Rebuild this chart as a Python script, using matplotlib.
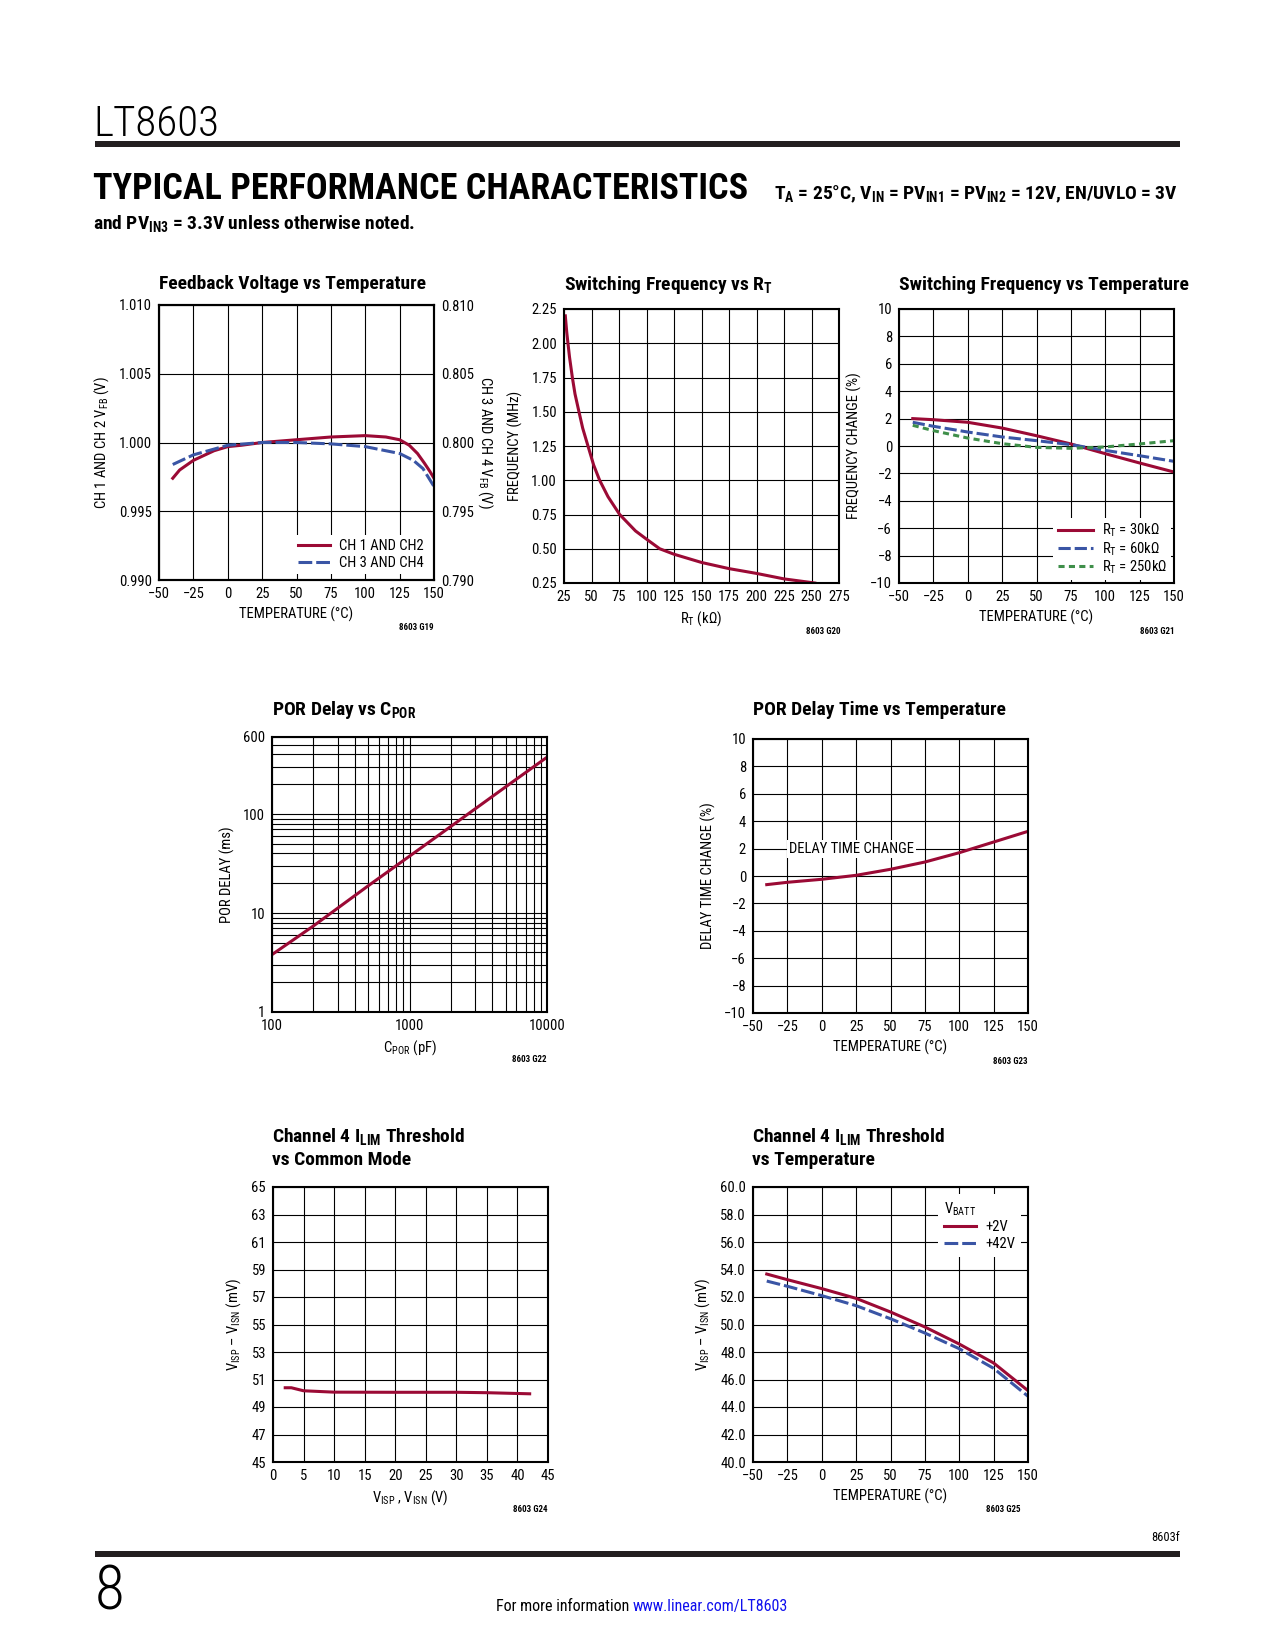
import matplotlib
matplotlib.use("Agg")
import matplotlib.pyplot as plt
from matplotlib import font_manager
from matplotlib.patches import Rectangle
from matplotlib.lines import Line2D
from matplotlib.ticker import (MultipleLocator, FormatStrFormatter, LogLocator,
                               NullFormatter, FixedLocator, FixedFormatter)

# ---- data ----
# Feedback voltage vs temperature
fb_temp_12 = [-40, -35, -25, -10, 0, 10, 25, 50, 75, 100, 115, 125, 132, 138, 143, 147, 150]
fb_vfb_12 = [0.9974, 0.9980, 0.9987, 0.9994, 0.9997, 0.9998, 1.0000, 1.0002, 1.0004, 1.0005,
             1.0004, 1.0002, 0.9998, 0.9992, 0.9985, 0.9979, 0.9974]
fb_temp_34 = [-40, -25, 0, 25, 50, 75, 100, 125, 135, 142, 150]
fb_vfb_34 = [0.7984, 0.7991, 0.7998, 0.8000, 0.8000, 0.7999, 0.7997, 0.7992, 0.7987, 0.7981, 0.7968]

# Switching frequency vs RT
rt_kohm = [26.2, 27.5, 28.6, 30, 32.6, 35, 38.6, 42, 46.8, 52, 57.4, 65, 75.6, 90, 100,
           112, 125, 150, 175, 200, 225, 253]
fsw_mhz = [2.20, 2.08, 2.00, 1.90, 1.75, 1.63, 1.50, 1.38, 1.25, 1.11, 1.00, 0.88, 0.75,
           0.63, 0.57, 0.50, 0.46, 0.40, 0.355, 0.32, 0.28, 0.25]

# Switching frequency vs temperature
sf_temp = [-40, -25, 0, 25, 50, 75, 100, 125, 150]
sf_rt30 = [2.00, 1.92, 1.73, 1.31, 0.75, 0.15, -0.56, -1.24, -1.90]
sf_rt60 = [1.73, 1.44, 1.02, 0.66, 0.39, 0.10, -0.32, -0.71, -1.12]
sf_rt250 = [1.51, 1.12, 0.58, 0.17, -0.10, -0.17, -0.07, 0.15, 0.39]

# POR delay vs CPOR
cpor_pf = [100, 200, 500, 1000, 2000, 5000, 10000]
por_delay_ms = [3.8, 7.4, 18.8, 37.5, 75, 188, 375]

# POR delay time vs temperature
pd_temp = [-40, -25, 0, 25, 50, 75, 100, 125, 150]
pd_change = [-0.63, -0.46, -0.24, 0.05, 0.49, 1.02, 1.70, 2.48, 3.26]

# ILIM threshold vs common mode
cm_volts = [2, 3, 5, 10, 20, 30, 35, 42]
cm_ilim = [50.4, 50.4, 50.18, 50.08, 50.07, 50.07, 50.04, 49.96]

# ILIM threshold vs temperature
it_temp = [-40, -25, 0, 25, 50, 75, 100, 125, 150]
it_2v = [53.67, 53.26, 52.61, 51.90, 50.91, 49.82, 48.58, 47.20, 45.19]
it_42v = [53.16, 52.78, 52.10, 51.37, 50.42, 49.38, 48.24, 46.81, 44.78]

RED = "#9B0A35"
BLUE = "#3A55A5"
GREEN = "#3F8F4A"

# a narrow face suits the datasheet look; fall back to Liberation Sans
_names = {f.name for f in font_manager.fontManager.ttflist}
FONT = "Liberation Sans"
NARROW = False
for cand in ["Liberation Sans Narrow", "Roboto Condensed", "Open Sans Condensed"]:
    if cand in _names:
        FONT, NARROW = cand, True
        break

plt.rcParams.update({
    "font.family": [FONT, "DejaVu Sans"],
    "font.size": 10.5,
    "mathtext.fontset": "custom",
    "mathtext.rm": FONT,
    "mathtext.it": FONT + ":italic",
    "mathtext.bf": FONT + ":bold",
    "mathtext.sf": FONT,
    "mathtext.default": "regular",
})

TITLE_FS = 14 if NARROW else 11.5
HEAD_FS = 26 if NARROW else 21
SUB_FS = 14 if NARROW else 11.5
TICK_FS = 10.5
LAB_FS = 10.5

W, H = 1275, 1650
fig = plt.figure(figsize=(W / 100, H / 100), dpi=100)


def px_axes(x0, y0, x1, y1):
    return fig.add_axes([x0 / W, 1 - y1 / H, (x1 - x0) / W, (y1 - y0) / H])


def ftext(x, y, s, **kw):
    return fig.text(x / W, 1 - y / H, s, **kw)


def style(ax):
    for sp in ax.spines.values():
        sp.set_linewidth(1.5)
        sp.set_color("black")
    ax.grid(True, which="major", color="black", linewidth=0.8)
    ax.tick_params(which="both", length=0, pad=5, labelsize=TICK_FS, colors="black")
    ax.set_axisbelow(True)


def temp_axis(ax):
    ax.set_xlim(-50, 150)
    ax.xaxis.set_major_locator(MultipleLocator(25))
    ax.set_xlabel("TEMPERATURE (°C)", fontsize=LAB_FS, labelpad=4)


def title(x, y, s):
    ftext(x, y, s, fontsize=TITLE_FS, fontweight="bold", ha="left", va="baseline")


def code(x, y, s):
    ftext(x, y, s, fontsize=6.5, fontweight="bold", ha="right", va="center")


LW = 2.2

# ---- page header ----
ftext(93, 136, "LT8603", fontsize=31, fontweight="light", ha="left", va="baseline")
fig.add_artist(Rectangle((95 / W, 1 - 147 / H), (1180 - 95) / W, 6 / H,
                         transform=fig.transFigure, color="#231F20", lw=0))
ftext(93, 199, "TYPICAL PERFORMANCE CHARACTERISTICS", fontsize=HEAD_FS,
      fontweight="bold", ha="left", va="baseline")
ftext(1178, 199, r"T$_\mathbf{A}$ = 25°C, V$_\mathbf{IN}$ = PV$_\mathbf{IN1}$ = "
      r"PV$_\mathbf{IN2}$ = 12V, EN/UVLO = 3V", fontsize=SUB_FS, fontweight="bold",
      ha="right", va="baseline")
ftext(93, 229, r"and PV$_\mathbf{IN3}$ = 3.3V unless otherwise noted.", fontsize=SUB_FS,
      fontweight="bold", ha="left", va="baseline")

# ---- G19 feedback voltage ----
ax = px_axes(159, 305, 434, 580)
style(ax)
temp_axis(ax)
ax.set_ylim(0.990, 1.010)
ax.yaxis.set_major_locator(MultipleLocator(0.005))
ax.yaxis.set_major_formatter(FormatStrFormatter("%.3f"))
ax.set_ylabel("CH 1 AND CH 2 V$_{FB}$ (V)", fontsize=LAB_FS, labelpad=6)
ax.plot(fb_temp_12, fb_vfb_12, color=RED, lw=LW)
ax2 = ax.twinx()
ax2.set_ylim(0.790, 0.810)
ax2.yaxis.set_major_locator(MultipleLocator(0.005))
ax2.yaxis.set_major_formatter(FormatStrFormatter("%.3f"))
ax2.tick_params(length=0, pad=5, labelsize=TICK_FS)
for sp in ax2.spines.values():
    sp.set_linewidth(1.5)
ax2.set_ylabel("CH 3 AND CH 4 V$_{FB}$ (V)", fontsize=LAB_FS, rotation=270, labelpad=15)
ax2.plot(fb_temp_34, fb_vfb_34, color=BLUE, lw=LW, dashes=(4.5, 1.3))
leg_handles = [Line2D([], [], color=RED, lw=LW), Line2D([], [], color=BLUE, lw=LW, dashes=(4.5, 1.3))]
ax2.legend(leg_handles, ["CH 1 AND CH2", "CH 3 AND CH4"], loc="lower right",
           frameon=True, facecolor="white", edgecolor="none", framealpha=1, fancybox=False,
           handlelength=2.2, handletextpad=0.6, labelspacing=0.2, borderpad=0.3,
           borderaxespad=0.4, fontsize=LAB_FS)
title(159, 289, "Feedback Voltage vs Temperature")
code(434, 628, "8603 G19")

# ---- G20 switching frequency vs RT ----
ax = px_axes(564, 309, 839, 583)
style(ax)
ax.set_xlim(25, 275)
ax.set_ylim(0.25, 2.25)
ax.xaxis.set_major_locator(MultipleLocator(25))
ax.yaxis.set_major_locator(MultipleLocator(0.25))
ax.yaxis.set_major_formatter(FormatStrFormatter("%.2f"))
ax.plot(rt_kohm, fsw_mhz, color=RED, lw=LW)
ax.set_xlabel("R$_{T}$ (kΩ)", fontsize=LAB_FS, labelpad=4)
ax.set_ylabel("FREQUENCY (MHz)", fontsize=LAB_FS, labelpad=6)
title(564, 290, r"Switching Frequency vs R$_\mathbf{T}$")
code(840, 631, "8603 G20")

# ---- G21 switching frequency vs temperature ----
ax = px_axes(899, 309, 1174, 583)
style(ax)
temp_axis(ax)
ax.set_ylim(-10, 10)
ax.yaxis.set_major_locator(MultipleLocator(2))
ax.set_ylabel("FREQUENCY CHANGE (%)", fontsize=LAB_FS, labelpad=6)
ax.plot(sf_temp, sf_rt30, color=RED, lw=LW, label="R$_{T}$ = 30kΩ")
ax.plot(sf_temp, sf_rt60, color=BLUE, lw=LW, dashes=(4.0, 1.3), label="R$_{T}$ = 60kΩ")
ax.plot(sf_temp, sf_rt250, color=GREEN, lw=LW, dashes=(2.0, 1.4), label="R$_{T}$ = 250kΩ")
ax.legend(loc="lower right", frameon=True, facecolor="white", edgecolor="none",
          framealpha=1, fancybox=False, handlelength=2.4, handletextpad=0.6,
          labelspacing=0.05, borderpad=0.3, borderaxespad=0.2, fontsize=LAB_FS)
title(899, 290, "Switching Frequency vs Temperature")
code(1174, 631, "8603 G21")

# ---- G22 POR delay vs CPOR ----
ax = px_axes(272, 737, 547, 1012)
ax.set_xscale("log")
ax.set_yscale("log")
style(ax)
ax.set_xlim(100, 10000)
ax.set_ylim(1, 600)
ax.xaxis.set_major_locator(FixedLocator([100, 1000, 10000]))
ax.xaxis.set_major_formatter(FixedFormatter(["100", "1000", "10000"]))
ax.xaxis.set_minor_locator(LogLocator(base=10, subs=range(2, 10)))
ax.xaxis.set_minor_formatter(NullFormatter())
ax.yaxis.set_major_locator(FixedLocator([1, 10, 100, 600]))
ax.yaxis.set_major_formatter(FixedFormatter(["1", "10", "100", "600"]))
ax.yaxis.set_minor_locator(LogLocator(base=10, subs=range(2, 10)))
ax.yaxis.set_minor_formatter(NullFormatter())
ax.grid(True, which="both", color="black", linewidth=0.8)
ax.plot(cpor_pf, por_delay_ms, color=RED, lw=LW)
ax.set_xlabel("C$_{POR}$ (pF)", fontsize=LAB_FS, labelpad=4)
ax.set_ylabel("POR DELAY (ms)", fontsize=LAB_FS, labelpad=6)
title(272, 715, r"POR Delay vs C$_\mathbf{POR}$")
code(547, 1060, "8603 G22")

# ---- G23 POR delay time vs temperature ----
ax = px_axes(753, 739, 1028, 1013)
style(ax)
temp_axis(ax)
ax.set_ylim(-10, 10)
ax.yaxis.set_major_locator(MultipleLocator(2))
ax.set_ylabel("DELAY TIME CHANGE (%)", fontsize=LAB_FS, labelpad=6)
ax.plot(pd_temp, pd_change, color=RED, lw=LW)
ax.text(21.5, 2, "DELAY TIME CHANGE", ha="center", va="center", fontsize=LAB_FS,
        bbox=dict(facecolor="white", edgecolor="none", pad=1.5))
title(753, 715, "POR Delay Time vs Temperature")
code(1028, 1061, "8603 G23")

# ---- G24 ILIM vs common mode ----
ax = px_axes(273, 1187, 548, 1462)
style(ax)
ax.set_xlim(0, 45)
ax.set_ylim(45, 65)
ax.xaxis.set_major_locator(MultipleLocator(5))
ax.yaxis.set_major_locator(MultipleLocator(2, offset=1))
ax.plot(cm_volts, cm_ilim, color=RED, lw=LW)
ax.set_xlabel("V$_{ISP}$ , V$_{ISN}$ (V)", fontsize=LAB_FS, labelpad=4)
ax.set_ylabel("V$_{ISP}$ – V$_{ISN}$ (mV)", fontsize=LAB_FS, labelpad=6)
title(272, 1142, r"Channel 4 I$_\mathbf{LIM}$ Threshold")
title(272, 1165, "vs Common Mode")
code(548, 1510, "8603 G24")

# ---- G25 ILIM vs temperature ----
ax = px_axes(753, 1187, 1028, 1462)
style(ax)
temp_axis(ax)
ax.set_ylim(40, 60)
ax.yaxis.set_major_locator(MultipleLocator(2))
ax.yaxis.set_major_formatter(FormatStrFormatter("%.1f"))
ax.set_ylabel("V$_{ISP}$ – V$_{ISN}$ (mV)", fontsize=LAB_FS, labelpad=6)
ax.plot(it_temp, it_2v, color=RED, lw=LW, label="+2V")
ax.plot(it_temp, it_42v, color=BLUE, lw=LW, dashes=(4.5, 1.3), label="+42V")
ax.legend(loc="upper right", title="V$_{BATT}$", title_fontsize=LAB_FS, alignment="left",
          frameon=True, facecolor="white", edgecolor="none", framealpha=1, fancybox=False,
          handlelength=2.2, handletextpad=0.6, labelspacing=0.2, borderpad=0.4,
          borderaxespad=0.5, fontsize=LAB_FS)
title(752, 1142, r"Channel 4 I$_\mathbf{LIM}$ Threshold")
title(752, 1165, "vs Temperature")
code(1021, 1510, "8603 G25")

# ---- footer ----
ftext(1180, 1541, "8603f", fontsize=9, ha="right", va="baseline")
fig.add_artist(Rectangle((95 / W, 1 - 1557 / H), (1180 - 95) / W, 6 / H,
                         transform=fig.transFigure, color="#231F20", lw=0))
ftext(95, 1610, "8", fontsize=44, fontweight="light", ha="left", va="baseline")
ftext(629, 1611, "For more information", fontsize=11.5, ha="right", va="baseline")
ftext(633, 1611, "www.linear.com/LT8603", fontsize=11.5, ha="left", va="baseline", color="#1010EE")

fig.savefig("out.png", dpi=100, facecolor="white")
